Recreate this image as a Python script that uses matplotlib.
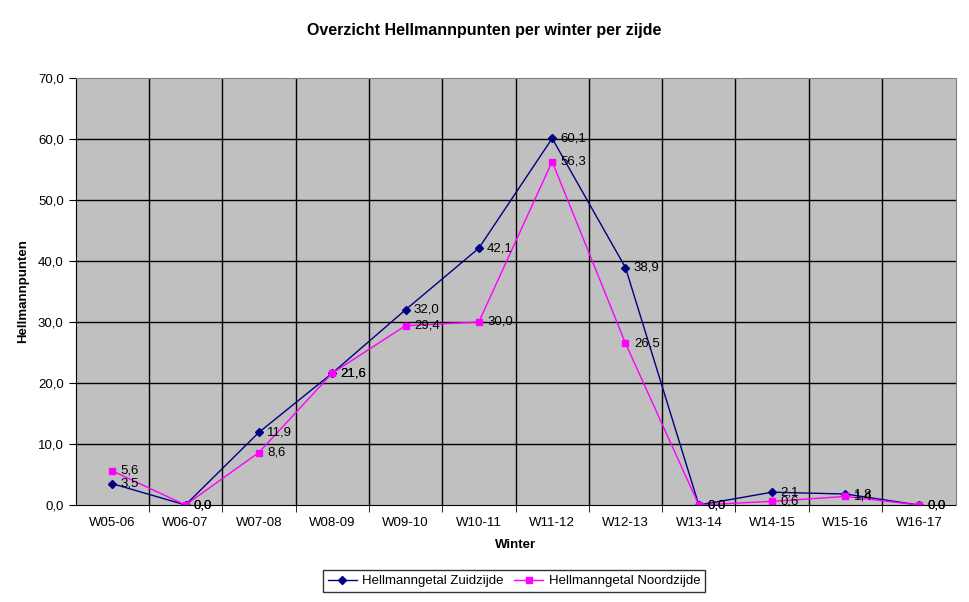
import matplotlib.pyplot as plt

plt.rcParams['font.family'] = ['Liberation Sans', 'DejaVu Sans']

winters = ["W05-06", "W06-07", "W07-08", "W08-09", "W09-10", "W10-11",
           "W11-12", "W12-13", "W13-14", "W14-15", "W15-16", "W16-17"]
zuid = [3.5, 0.0, 11.9, 21.6, 32.0, 42.1, 60.1, 38.9, 0.0, 2.1, 1.8, 0.0]
noord = [5.6, 0.0, 8.6, 21.6, 29.4, 30.0, 56.3, 26.5, 0.0, 0.6, 1.4, 0.0]

fig = plt.figure(figsize=(9.69, 6.02), dpi=100)
ax = fig.add_axes([75.5 / 969, 1 - 505 / 602, 880 / 969, 427 / 602])
ax.set_facecolor('#C0C0C0')

x = list(range(len(winters)))
ax.plot(x, zuid, color='#000080', marker='D', markersize=4, lw=1,
        label='Hellmanngetal Zuidzijde')
ax.plot(x, noord, color='#FF00FF', marker='s', markersize=5, lw=1,
        label='Hellmanngetal Noordzijde')

for xi, v in zip(x, zuid):
    ax.annotate(f"{v:.1f}".replace('.', ','), (xi, v), xytext=(6, 0),
                textcoords='offset points', va='center', fontsize=9.5)
for xi, v in zip(x, noord):
    ax.annotate(f"{v:.1f}".replace('.', ','), (xi, v), xytext=(6, 0),
                textcoords='offset points', va='center', fontsize=9.5)

ax.set_xlim(-0.5, len(winters) - 0.5)
ax.set_ylim(0, 70)
ax.set_yticks(range(0, 71, 10))
ax.set_yticklabels([f"{t:.1f}".replace('.', ',') for t in range(0, 71, 10)], fontsize=9.5)
ax.set_xticks(x)
ax.set_xticklabels(winters, fontsize=9.5)
ax.tick_params(axis='x', length=0, pad=9)
ax.set_xticks([k + 0.5 for k in x[:-1]], minor=True)
ax.tick_params(axis='x', which='minor', length=5, direction='out')
ax.tick_params(axis='y', length=5, direction='out')

for k in x[:-1]:
    ax.axvline(k + 0.5, color='black', lw=1.0, zorder=0.5)
for t in range(10, 70, 10):
    ax.axhline(t, color='black', lw=1.0, zorder=0.5)

ax.spines['top'].set_color('#808080')
ax.spines['right'].set_color('#808080')
ax.spines['left'].set_color('black')
ax.spines['bottom'].set_color('black')

ax.set_xlabel("Winter", fontsize=9.5, fontweight='bold', labelpad=7)
ax.set_ylabel("Hellmannpunten", fontsize=9.5, fontweight='bold', labelpad=6)
fig.suptitle("Overzicht Hellmannpunten per winter per zijde", fontsize=11.5,
             fontweight='bold', y=1 - 31 / 602, va='center')

leg = fig.legend(loc='center', bbox_to_anchor=(514 / 969, 1 - 581 / 602), ncol=2,
                 fontsize=9.5, frameon=True, fancybox=False, edgecolor='black',
                 handlelength=2.2, handletextpad=0.4, columnspacing=0.8,
                 borderpad=0.4, borderaxespad=0)
leg.get_frame().set_linewidth(1)

fig.savefig("out.png", dpi=100)
